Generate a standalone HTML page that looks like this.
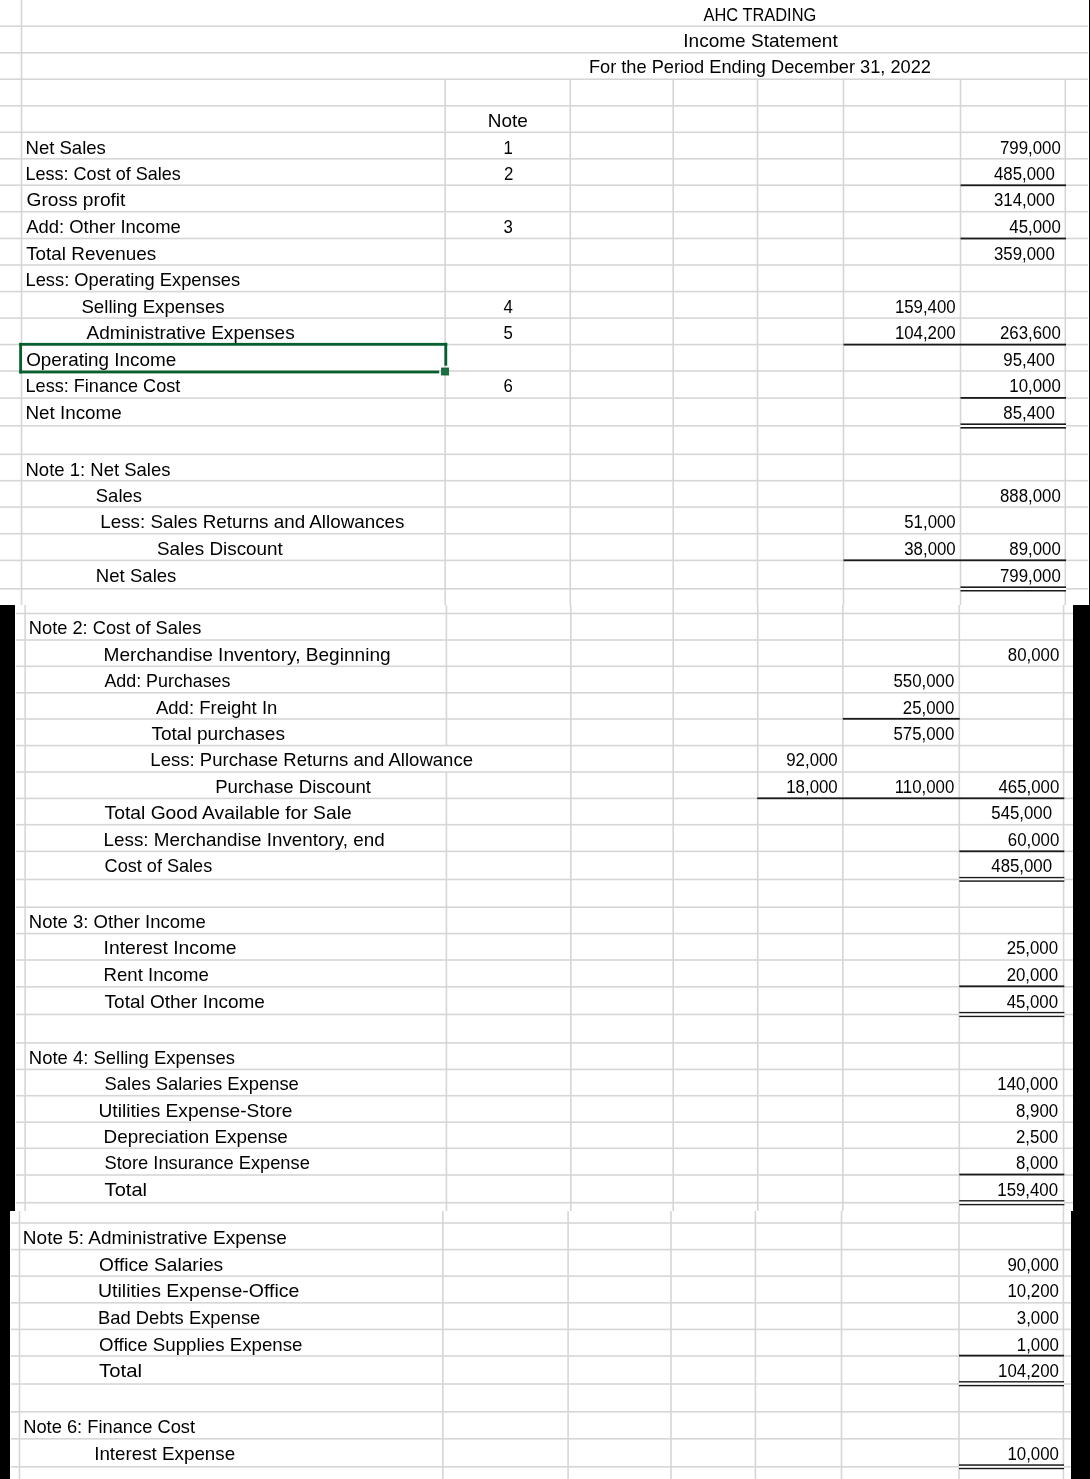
<!DOCTYPE html>
<html><head><meta charset="utf-8"><title>AHC Trading Income Statement</title>
<style>
html,body{margin:0;padding:0;background:#fff;}
body{width:1090px;height:1479px;overflow:hidden;}
svg{display:block;}
text{font-family:"Liberation Sans",sans-serif;font-size:18.4px;fill:#000;}
text.n{font-size:17.6px;}
</style></head><body>
<svg width="1090" height="1479" viewBox="0 0 1090 1479">
<rect x="0" y="0" width="1090" height="1479" fill="#fff"/>
<g shape-rendering="auto">
<rect x="0.00" y="25.40" width="1088.00" height="1.6" fill="#d6d6d6"/>
<rect x="0.00" y="52.00" width="1088.00" height="1.6" fill="#d6d6d6"/>
<rect x="0.00" y="78.40" width="1088.00" height="1.6" fill="#d6d6d6"/>
<rect x="0.00" y="105.00" width="1088.00" height="1.6" fill="#d6d6d6"/>
<rect x="0.00" y="131.50" width="1088.00" height="1.6" fill="#d6d6d6"/>
<rect x="0.00" y="158.00" width="1088.00" height="1.6" fill="#d6d6d6"/>
<rect x="0.00" y="184.40" width="1088.00" height="1.6" fill="#d6d6d6"/>
<rect x="0.00" y="210.90" width="1088.00" height="1.6" fill="#d6d6d6"/>
<rect x="0.00" y="237.70" width="1088.00" height="1.6" fill="#d6d6d6"/>
<rect x="0.00" y="264.20" width="1088.00" height="1.6" fill="#d6d6d6"/>
<rect x="0.00" y="290.80" width="1088.00" height="1.6" fill="#d6d6d6"/>
<rect x="0.00" y="317.30" width="1088.00" height="1.6" fill="#d6d6d6"/>
<rect x="0.00" y="343.80" width="1088.00" height="1.6" fill="#d6d6d6"/>
<rect x="0.00" y="370.20" width="1088.00" height="1.6" fill="#d6d6d6"/>
<rect x="0.00" y="397.30" width="1088.00" height="1.6" fill="#d6d6d6"/>
<rect x="0.00" y="425.00" width="1088.00" height="1.6" fill="#d6d6d6"/>
<rect x="0.00" y="453.50" width="1088.00" height="1.6" fill="#d6d6d6"/>
<rect x="0.00" y="479.90" width="1088.00" height="1.6" fill="#d6d6d6"/>
<rect x="0.00" y="506.30" width="1088.00" height="1.6" fill="#d6d6d6"/>
<rect x="0.00" y="532.90" width="1088.00" height="1.6" fill="#d6d6d6"/>
<rect x="0.00" y="559.60" width="1088.00" height="1.6" fill="#d6d6d6"/>
<rect x="0.00" y="588.00" width="1088.00" height="1.6" fill="#d6d6d6"/>
<rect x="20.70" y="0.00" width="1.6" height="605.00" fill="#d6d6d6"/>
<rect x="444.40" y="79.20" width="1.6" height="525.80" fill="#d6d6d6"/>
<rect x="569.50" y="79.20" width="1.6" height="525.80" fill="#d6d6d6"/>
<rect x="672.40" y="79.20" width="1.6" height="525.80" fill="#d6d6d6"/>
<rect x="756.70" y="79.20" width="1.6" height="525.80" fill="#d6d6d6"/>
<rect x="842.70" y="79.20" width="1.6" height="525.80" fill="#d6d6d6"/>
<rect x="959.70" y="79.20" width="1.6" height="525.80" fill="#d6d6d6"/>
<rect x="1064.50" y="79.20" width="1.6" height="525.80" fill="#d6d6d6"/>
<rect x="16.00" y="612.70" width="1057.00" height="1.6" fill="#d6d6d6"/>
<rect x="16.00" y="639.20" width="1057.00" height="1.6" fill="#d6d6d6"/>
<rect x="16.00" y="665.50" width="1057.00" height="1.6" fill="#d6d6d6"/>
<rect x="16.00" y="692.00" width="1057.00" height="1.6" fill="#d6d6d6"/>
<rect x="16.00" y="718.20" width="1057.00" height="1.6" fill="#d6d6d6"/>
<rect x="16.00" y="744.80" width="1057.00" height="1.6" fill="#d6d6d6"/>
<rect x="16.00" y="771.20" width="1057.00" height="1.6" fill="#d6d6d6"/>
<rect x="16.00" y="797.60" width="1057.00" height="1.6" fill="#d6d6d6"/>
<rect x="16.00" y="823.90" width="1057.00" height="1.6" fill="#d6d6d6"/>
<rect x="16.00" y="850.60" width="1057.00" height="1.6" fill="#d6d6d6"/>
<rect x="16.00" y="878.70" width="1057.00" height="1.6" fill="#d6d6d6"/>
<rect x="16.00" y="906.40" width="1057.00" height="1.6" fill="#d6d6d6"/>
<rect x="16.00" y="932.80" width="1057.00" height="1.6" fill="#d6d6d6"/>
<rect x="16.00" y="959.20" width="1057.00" height="1.6" fill="#d6d6d6"/>
<rect x="16.00" y="986.00" width="1057.00" height="1.6" fill="#d6d6d6"/>
<rect x="16.00" y="1013.70" width="1057.00" height="1.6" fill="#d6d6d6"/>
<rect x="16.00" y="1042.10" width="1057.00" height="1.6" fill="#d6d6d6"/>
<rect x="16.00" y="1068.60" width="1057.00" height="1.6" fill="#d6d6d6"/>
<rect x="16.00" y="1094.90" width="1057.00" height="1.6" fill="#d6d6d6"/>
<rect x="16.00" y="1121.40" width="1057.00" height="1.6" fill="#d6d6d6"/>
<rect x="16.00" y="1147.50" width="1057.00" height="1.6" fill="#d6d6d6"/>
<rect x="16.00" y="1174.20" width="1057.00" height="1.6" fill="#d6d6d6"/>
<rect x="16.00" y="1201.90" width="1057.00" height="1.6" fill="#d6d6d6"/>
<rect x="24.30" y="605.00" width="1.6" height="606.00" fill="#d6d6d6"/>
<rect x="445.60" y="605.00" width="1.6" height="140.60" fill="#d6d6d6"/>
<rect x="445.60" y="772.00" width="1.6" height="439.00" fill="#d6d6d6"/>
<rect x="570.00" y="605.00" width="1.6" height="606.00" fill="#d6d6d6"/>
<rect x="672.40" y="605.00" width="1.6" height="606.00" fill="#d6d6d6"/>
<rect x="756.90" y="605.00" width="1.6" height="606.00" fill="#d6d6d6"/>
<rect x="842.00" y="605.00" width="1.6" height="606.00" fill="#d6d6d6"/>
<rect x="958.50" y="605.00" width="1.6" height="606.00" fill="#d6d6d6"/>
<rect x="1062.80" y="605.00" width="1.6" height="606.00" fill="#d6d6d6"/>
<rect x="11.00" y="1222.20" width="1060.00" height="1.6" fill="#d6d6d6"/>
<rect x="11.00" y="1248.80" width="1060.00" height="1.6" fill="#d6d6d6"/>
<rect x="11.00" y="1275.30" width="1060.00" height="1.6" fill="#d6d6d6"/>
<rect x="11.00" y="1302.00" width="1060.00" height="1.6" fill="#d6d6d6"/>
<rect x="11.00" y="1328.60" width="1060.00" height="1.6" fill="#d6d6d6"/>
<rect x="11.00" y="1355.20" width="1060.00" height="1.6" fill="#d6d6d6"/>
<rect x="11.00" y="1383.20" width="1060.00" height="1.6" fill="#d6d6d6"/>
<rect x="11.00" y="1411.00" width="1060.00" height="1.6" fill="#d6d6d6"/>
<rect x="11.00" y="1438.00" width="1060.00" height="1.6" fill="#d6d6d6"/>
<rect x="11.00" y="1466.00" width="1060.00" height="1.6" fill="#d6d6d6"/>
<rect x="18.70" y="1211.00" width="1.6" height="268.00" fill="#d6d6d6"/>
<rect x="442.00" y="1211.00" width="1.6" height="268.00" fill="#d6d6d6"/>
<rect x="567.30" y="1211.00" width="1.6" height="268.00" fill="#d6d6d6"/>
<rect x="670.20" y="1211.00" width="1.6" height="268.00" fill="#d6d6d6"/>
<rect x="754.60" y="1211.00" width="1.6" height="268.00" fill="#d6d6d6"/>
<rect x="840.70" y="1211.00" width="1.6" height="268.00" fill="#d6d6d6"/>
<rect x="958.20" y="1211.00" width="1.6" height="268.00" fill="#d6d6d6"/>
<rect x="1062.60" y="1211.00" width="1.6" height="268.00" fill="#d6d6d6"/>
</g>
<rect x="960.50" y="184.40" width="105.50" height="1.8" fill="#1a1a1a"/>
<rect x="960.50" y="237.60" width="105.50" height="1.8" fill="#1a1a1a"/>
<rect x="843.50" y="343.70" width="222.50" height="1.8" fill="#1a1a1a"/>
<rect x="960.50" y="397.00" width="105.50" height="1.8" fill="#1a1a1a"/>
<rect x="843.50" y="559.40" width="222.50" height="1.8" fill="#1a1a1a"/>
<rect x="842.80" y="717.90" width="117.00" height="1.8" fill="#1a1a1a"/>
<rect x="757.20" y="797.40" width="307.10" height="1.8" fill="#1a1a1a"/>
<rect x="959.30" y="850.40" width="105.00" height="1.8" fill="#1a1a1a"/>
<rect x="959.30" y="985.40" width="105.00" height="1.8" fill="#1a1a1a"/>
<rect x="959.30" y="1173.60" width="105.00" height="1.8" fill="#1a1a1a"/>
<rect x="959.00" y="1354.70" width="105.00" height="1.8" fill="#1a1a1a"/>
<rect x="960.50" y="423.40" width="105.50" height="1.6" fill="#1a1a1a"/>
<rect x="960.50" y="427.00" width="105.50" height="1.6" fill="#1a1a1a"/>
<rect x="960.50" y="425.00" width="105.50" height="2.00" fill="#fff"/>
<rect x="960.50" y="586.40" width="105.50" height="1.6" fill="#1a1a1a"/>
<rect x="960.50" y="589.90" width="105.50" height="1.6" fill="#1a1a1a"/>
<rect x="960.50" y="588.00" width="105.50" height="1.90" fill="#fff"/>
<rect x="959.30" y="876.90" width="105.00" height="1.6" fill="#1a1a1a"/>
<rect x="959.30" y="880.20" width="105.00" height="1.6" fill="#1a1a1a"/>
<rect x="959.30" y="878.50" width="105.00" height="1.70" fill="#fff"/>
<rect x="959.30" y="1011.90" width="105.00" height="1.6" fill="#1a1a1a"/>
<rect x="959.30" y="1015.50" width="105.00" height="1.6" fill="#1a1a1a"/>
<rect x="959.30" y="1013.50" width="105.00" height="2.00" fill="#fff"/>
<rect x="959.30" y="1200.10" width="105.00" height="1.6" fill="#1a1a1a"/>
<rect x="959.30" y="1203.70" width="105.00" height="1.6" fill="#1a1a1a"/>
<rect x="959.30" y="1201.70" width="105.00" height="2.00" fill="#fff"/>
<rect x="959.00" y="1381.10" width="105.00" height="1.6" fill="#1a1a1a"/>
<rect x="959.00" y="1384.70" width="105.00" height="1.6" fill="#1a1a1a"/>
<rect x="959.00" y="1382.70" width="105.00" height="2.00" fill="#fff"/>
<rect x="959.00" y="1464.30" width="105.00" height="1.6" fill="#1a1a1a"/>
<rect x="959.00" y="1467.60" width="105.00" height="1.6" fill="#1a1a1a"/>
<rect x="959.00" y="1465.90" width="105.00" height="1.70" fill="#fff"/>
<rect x="1089" y="0" width="1" height="605" fill="#000"/>
<rect x="0" y="605" width="15" height="606" fill="#000"/>
<rect x="1073" y="605" width="17" height="606" fill="#000"/>
<rect x="0" y="1211" width="10" height="268" fill="#000"/>
<rect x="1071" y="1211" width="19" height="268" fill="#000"/>
<rect x="19.2" y="342.9" width="428" height="2.8" fill="#065f2d"/>
<rect x="19.2" y="342.9" width="2.8" height="30.5" fill="#065f2d"/>
<rect x="444.4" y="342.9" width="2.8" height="22.8" fill="#065f2d"/>
<rect x="19.2" y="370.6" width="420" height="2.8" fill="#065f2d"/>
<rect x="441.6" y="368.0" width="7" height="7" fill="#1d6e40" stroke="#0b5f2d" stroke-width="0.8"/>
<defs><filter id="sb" x="-2%" y="-20%" width="104%" height="140%"><feGaussianBlur stdDeviation="0.3"/></filter></defs>
<g filter="url(#sb)">
<text x="703.60" y="20.70" textLength="112.66" lengthAdjust="spacingAndGlyphs">AHC TRADING</text>
<text x="683.27" y="46.90" textLength="154.45" lengthAdjust="spacingAndGlyphs">Income Statement</text>
<text x="588.91" y="73.20" textLength="342.02" lengthAdjust="spacingAndGlyphs">For the Period Ending December 31, 2022</text>
<text x="487.77" y="127.00" textLength="40.07" lengthAdjust="spacingAndGlyphs">Note</text>
<text x="25.49" y="154.00" textLength="80.41" lengthAdjust="spacingAndGlyphs">Net Sales</text>
<text x="25.52" y="180.00" textLength="155.27" lengthAdjust="spacingAndGlyphs">Less: Cost of Sales</text>
<text x="26.50" y="206.00" textLength="98.91" lengthAdjust="spacingAndGlyphs">Gross profit</text>
<text x="26.20" y="233.00" textLength="154.63" lengthAdjust="spacingAndGlyphs">Add: Other Income</text>
<text x="26.20" y="260.00" textLength="130.10" lengthAdjust="spacingAndGlyphs">Total Revenues</text>
<text x="25.50" y="286.00" textLength="214.69" lengthAdjust="spacingAndGlyphs">Less: Operating Expenses</text>
<text x="81.40" y="313.00" textLength="143.30" lengthAdjust="spacingAndGlyphs">Selling Expenses</text>
<text x="86.50" y="339.00" textLength="208.20" lengthAdjust="spacingAndGlyphs">Administrative Expenses</text>
<text x="26.20" y="366.00" textLength="150.03" lengthAdjust="spacingAndGlyphs">Operating Income</text>
<text x="25.52" y="392.00" textLength="154.79" lengthAdjust="spacingAndGlyphs">Less: Finance Cost</text>
<text x="25.48" y="419.00" textLength="96.26" lengthAdjust="spacingAndGlyphs">Net Income</text>
<text x="25.49" y="476.00" textLength="145.00" lengthAdjust="spacingAndGlyphs">Note 1: Net Sales</text>
<text x="95.80" y="502.00" textLength="46.20" lengthAdjust="spacingAndGlyphs">Sales</text>
<text x="100.28" y="528.00" textLength="304.12" lengthAdjust="spacingAndGlyphs">Less: Sales Returns and Allowances</text>
<text x="157.00" y="555.00" textLength="125.81" lengthAdjust="spacingAndGlyphs">Sales Discount</text>
<text x="95.89" y="582.00" textLength="80.51" lengthAdjust="spacingAndGlyphs">Net Sales</text>
<text x="28.81" y="634.00" textLength="172.49" lengthAdjust="spacingAndGlyphs">Note 2: Cost of Sales</text>
<text x="103.56" y="661.00" textLength="287.07" lengthAdjust="spacingAndGlyphs">Merchandise Inventory, Beginning</text>
<text x="104.40" y="687.00" textLength="126.09" lengthAdjust="spacingAndGlyphs">Add: Purchases</text>
<text x="156.00" y="714.00" textLength="121.33" lengthAdjust="spacingAndGlyphs">Add: Freight In</text>
<text x="151.40" y="740.00" textLength="133.60" lengthAdjust="spacingAndGlyphs">Total purchases</text>
<text x="150.39" y="766.00" textLength="322.63" lengthAdjust="spacingAndGlyphs">Less: Purchase Returns and Allowance</text>
<text x="215.19" y="793.00" textLength="155.82" lengthAdjust="spacingAndGlyphs">Purchase Discount</text>
<text x="104.60" y="819.00" textLength="247.04" lengthAdjust="spacingAndGlyphs">Total Good Available for Sale</text>
<text x="103.58" y="846.00" textLength="281.06" lengthAdjust="spacingAndGlyphs">Less: Merchandise Inventory, end</text>
<text x="104.60" y="872.00" textLength="107.59" lengthAdjust="spacingAndGlyphs">Cost of Sales</text>
<text x="28.79" y="928.00" textLength="176.94" lengthAdjust="spacingAndGlyphs">Note 3: Other Income</text>
<text x="103.55" y="954.00" textLength="132.89" lengthAdjust="spacingAndGlyphs">Interest Income</text>
<text x="103.59" y="981.00" textLength="105.34" lengthAdjust="spacingAndGlyphs">Rent Income</text>
<text x="104.60" y="1008.00" textLength="160.34" lengthAdjust="spacingAndGlyphs">Total Other Income</text>
<text x="28.80" y="1064.00" textLength="206.30" lengthAdjust="spacingAndGlyphs">Note 4: Selling Expenses</text>
<text x="104.60" y="1090.00" textLength="194.23" lengthAdjust="spacingAndGlyphs">Sales Salaries Expense</text>
<text x="98.46" y="1117.00" textLength="193.98" lengthAdjust="spacingAndGlyphs">Utilities Expense-Store</text>
<text x="103.58" y="1143.00" textLength="184.26" lengthAdjust="spacingAndGlyphs">Depreciation Expense</text>
<text x="104.60" y="1169.00" textLength="205.23" lengthAdjust="spacingAndGlyphs">Store Insurance Expense</text>
<text x="104.60" y="1196.00" textLength="42.49" lengthAdjust="spacingAndGlyphs">Total</text>
<text x="22.87" y="1244.00" textLength="264.06" lengthAdjust="spacingAndGlyphs">Note 5: Administrative Expense</text>
<text x="99.10" y="1271.00" textLength="124.10" lengthAdjust="spacingAndGlyphs">Office Salaries</text>
<text x="98.04" y="1297.00" textLength="201.30" lengthAdjust="spacingAndGlyphs">Utilities Expense-Office</text>
<text x="98.10" y="1324.00" textLength="162.23" lengthAdjust="spacingAndGlyphs">Bad Debts Expense</text>
<text x="99.10" y="1351.00" textLength="203.43" lengthAdjust="spacingAndGlyphs">Office Supplies Expense</text>
<text x="99.10" y="1377.00" textLength="42.90" lengthAdjust="spacingAndGlyphs">Total</text>
<text x="23.20" y="1433.00" textLength="171.90" lengthAdjust="spacingAndGlyphs">Note 6: Finance Cost</text>
<text x="94.18" y="1460.00" textLength="140.95" lengthAdjust="spacingAndGlyphs">Interest Expense</text>
<text class="n" x="1000.00" y="154.00" textLength="60.79" lengthAdjust="spacingAndGlyphs">799,000</text>
<text class="n" x="994.00" y="180.00" textLength="60.79" lengthAdjust="spacingAndGlyphs">485,000</text>
<text class="n" x="994.00" y="206.00" textLength="60.79" lengthAdjust="spacingAndGlyphs">314,000</text>
<text class="n" x="1009.35" y="233.00" textLength="51.44" lengthAdjust="spacingAndGlyphs">45,000</text>
<text class="n" x="994.00" y="260.00" textLength="60.79" lengthAdjust="spacingAndGlyphs">359,000</text>
<text class="n" x="894.90" y="313.00" textLength="60.79" lengthAdjust="spacingAndGlyphs">159,400</text>
<text class="n" x="894.90" y="339.00" textLength="60.79" lengthAdjust="spacingAndGlyphs">104,200</text>
<text class="n" x="1000.00" y="339.00" textLength="60.79" lengthAdjust="spacingAndGlyphs">263,600</text>
<text class="n" x="1003.35" y="366.00" textLength="51.44" lengthAdjust="spacingAndGlyphs">95,400</text>
<text class="n" x="1009.35" y="392.00" textLength="51.44" lengthAdjust="spacingAndGlyphs">10,000</text>
<text class="n" x="1003.35" y="419.00" textLength="51.44" lengthAdjust="spacingAndGlyphs">85,400</text>
<text class="n" x="1000.00" y="502.00" textLength="60.79" lengthAdjust="spacingAndGlyphs">888,000</text>
<text class="n" x="904.25" y="528.00" textLength="51.44" lengthAdjust="spacingAndGlyphs">51,000</text>
<text class="n" x="904.25" y="555.00" textLength="51.44" lengthAdjust="spacingAndGlyphs">38,000</text>
<text class="n" x="1009.35" y="555.00" textLength="51.44" lengthAdjust="spacingAndGlyphs">89,000</text>
<text class="n" x="1000.00" y="582.00" textLength="60.79" lengthAdjust="spacingAndGlyphs">799,000</text>
<text class="n" x="1007.85" y="661.00" textLength="51.44" lengthAdjust="spacingAndGlyphs">80,000</text>
<text class="n" x="893.50" y="687.00" textLength="60.79" lengthAdjust="spacingAndGlyphs">550,000</text>
<text class="n" x="902.85" y="714.00" textLength="51.44" lengthAdjust="spacingAndGlyphs">25,000</text>
<text class="n" x="893.50" y="740.00" textLength="60.79" lengthAdjust="spacingAndGlyphs">575,000</text>
<text class="n" x="786.25" y="766.00" textLength="51.44" lengthAdjust="spacingAndGlyphs">92,000</text>
<text class="n" x="786.25" y="793.00" textLength="51.44" lengthAdjust="spacingAndGlyphs">18,000</text>
<text class="n" x="894.75" y="793.00" textLength="59.55" lengthAdjust="spacingAndGlyphs">110,000</text>
<text class="n" x="998.50" y="793.00" textLength="60.79" lengthAdjust="spacingAndGlyphs">465,000</text>
<text class="n" x="991.30" y="819.00" textLength="60.79" lengthAdjust="spacingAndGlyphs">545,000</text>
<text class="n" x="1007.85" y="846.00" textLength="51.44" lengthAdjust="spacingAndGlyphs">60,000</text>
<text class="n" x="991.30" y="872.00" textLength="60.79" lengthAdjust="spacingAndGlyphs">485,000</text>
<text class="n" x="1006.65" y="954.00" textLength="51.44" lengthAdjust="spacingAndGlyphs">25,000</text>
<text class="n" x="1006.65" y="981.00" textLength="51.44" lengthAdjust="spacingAndGlyphs">20,000</text>
<text class="n" x="1006.65" y="1008.00" textLength="51.44" lengthAdjust="spacingAndGlyphs">45,000</text>
<text class="n" x="997.30" y="1090.00" textLength="60.79" lengthAdjust="spacingAndGlyphs">140,000</text>
<text class="n" x="1016.01" y="1117.00" textLength="42.09" lengthAdjust="spacingAndGlyphs">8,900</text>
<text class="n" x="1016.01" y="1143.00" textLength="42.09" lengthAdjust="spacingAndGlyphs">2,500</text>
<text class="n" x="1016.01" y="1169.00" textLength="42.09" lengthAdjust="spacingAndGlyphs">8,000</text>
<text class="n" x="997.30" y="1196.00" textLength="60.79" lengthAdjust="spacingAndGlyphs">159,400</text>
<text class="n" x="1007.45" y="1271.00" textLength="51.44" lengthAdjust="spacingAndGlyphs">90,000</text>
<text class="n" x="1007.45" y="1297.00" textLength="51.44" lengthAdjust="spacingAndGlyphs">10,200</text>
<text class="n" x="1016.81" y="1324.00" textLength="42.09" lengthAdjust="spacingAndGlyphs">3,000</text>
<text class="n" x="1016.81" y="1351.00" textLength="42.09" lengthAdjust="spacingAndGlyphs">1,000</text>
<text class="n" x="998.10" y="1377.00" textLength="60.79" lengthAdjust="spacingAndGlyphs">104,200</text>
<text class="n" x="1007.45" y="1460.00" textLength="51.44" lengthAdjust="spacingAndGlyphs">10,000</text>
<text class="n" x="503.62" y="154.00" textLength="9.35" lengthAdjust="spacingAndGlyphs">1</text>
<text class="n" x="504.10" y="180.00" textLength="9.35" lengthAdjust="spacingAndGlyphs">2</text>
<text class="n" x="503.62" y="233.00" textLength="9.35" lengthAdjust="spacingAndGlyphs">3</text>
<text class="n" x="503.62" y="313.00" textLength="9.35" lengthAdjust="spacingAndGlyphs">4</text>
<text class="n" x="503.62" y="339.00" textLength="9.35" lengthAdjust="spacingAndGlyphs">5</text>
<text class="n" x="503.62" y="392.00" textLength="9.35" lengthAdjust="spacingAndGlyphs">6</text>
</g>
</svg>
</body></html>
